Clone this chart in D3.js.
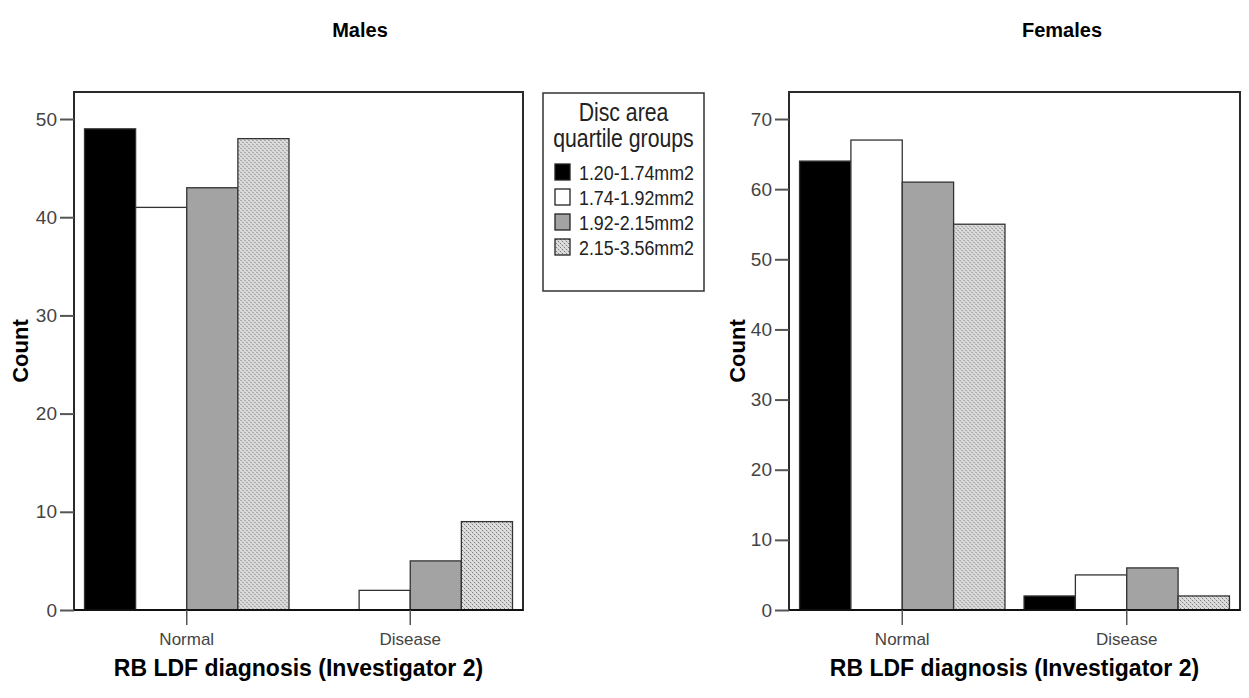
<!DOCTYPE html>
<html>
<head>
<meta charset="utf-8">
<script src="https://cdn.jsdelivr.net/npm/d3@7"></script>
<style>
  html, body { margin: 0; padding: 0; background: #fff; }
  svg { display: block; }
  .reg { font-family: "Liberation Sans", Arial, sans-serif; }
  .bold { font-family: "Liberation Sans", Arial, sans-serif; font-weight: bold; }
</style>
</head>
<body>
<svg id="chart" width="1249" height="698"></svg>
<script>
// Counts by diagnosis (rows) and disc-area quartile group (columns)
const categories = ["Normal", "Disease"];
const groups = ["1.20-1.74mm2", "1.74-1.92mm2", "1.92-2.15mm2", "2.15-3.56mm2"];
const malesNormal = [49, 41, 43, 48];
const malesDisease = [0, 2, 5, 9];
const femalesNormal = [64, 67, 61, 55];
const femalesDisease = [2, 5, 6, 2];
const malesTicks = [0, 10, 20, 30, 40, 50];
const femalesTicks = [0, 10, 20, 30, 40, 50, 60, 70];
const legendTitle = ["Disc area", "quartile groups"];
const xTitle = "RB LDF diagnosis (Investigator 2)";
const yTitle = "Count";

const svg = d3.select("#chart");
const CONDENSE = 0.85; // horizontal squeeze for the narrow-looking labels

// Fill patterns: solid black, white, mid grey, light stipple
const defs = svg.append("defs");
const stip = defs.append("pattern")
  .attr("id", "stipple").attr("patternUnits", "userSpaceOnUse")
  .attr("width", 4).attr("height", 4);
stip.append("rect").attr("width", 4).attr("height", 4).attr("fill", "#dedede");
stip.append("rect").attr("x", 0).attr("y", 0).attr("width", 1).attr("height", 1).attr("fill", "#7a7a7a");
stip.append("rect").attr("x", 2).attr("y", 2).attr("width", 1).attr("height", 1).attr("fill", "#7a7a7a");
stip.append("rect").attr("x", 1).attr("y", 1).attr("width", 1).attr("height", 1).attr("fill", "#bdbdbd");
stip.append("rect").attr("x", 3).attr("y", 3).attr("width", 1).attr("height", 1).attr("fill", "#bdbdbd");

const fills = d3.scaleOrdinal().domain(groups)
  .range(["#000000", "#ffffff", "#a3a3a3", "url(#stipple)"]);

function drawPanel(opt) {
  const g = svg.append("g");
  const { x0, x1, y0, y1 } = opt;

  const x = d3.scaleBand().domain(categories).range([x0, x1])
    .paddingInner(0.085).paddingOuter(0.047);
  const xi = d3.scaleBand().domain(groups).range([0, x.bandwidth()]);
  const y = d3.scaleLinear().domain([0, opt.yMax]).range([y1, y0]);

  // plot frame
  g.append("rect")
    .attr("x", x0).attr("y", y0).attr("width", x1 - x0).attr("height", y1 - y0)
    .attr("fill", "#fff").attr("stroke", "#2a2a2a").attr("stroke-width", 2);

  // bars
  const rows = categories.map((c, i) => ({ cat: c, vals: opt.values[i] }));
  const grp = g.selectAll("g.cat").data(rows).join("g")
    .attr("class", "cat")
    .attr("transform", d => `translate(${x(d.cat)},0)`);
  grp.selectAll("rect").data(d => d.vals.map((v, j) => ({ v, grp: groups[j] })))
    .join("rect")
    .attr("x", d => xi(d.grp))
    .attr("y", d => y(d.v))
    .attr("width", xi.bandwidth())
    .attr("height", d => y(0) - y(d.v))
    .attr("fill", d => fills(d.grp))
    .attr("stroke", "#333")
    .attr("stroke-width", 1.3);

  // baseline
  g.append("line").attr("x1", x0).attr("x2", x1).attr("y1", y1).attr("y2", y1)
    .attr("stroke", "#111").attr("stroke-width", 2);

  // y axis
  const ya = g.append("g").attr("transform", `translate(${x0},0)`)
    .call(d3.axisLeft(y).tickValues(opt.ticks).tickSize(14).tickPadding(3));
  ya.select(".domain").remove();
  ya.selectAll(".tick line").attr("stroke", "#555").attr("stroke-width", 2);
  ya.selectAll(".tick text").attr("class", "reg").attr("font-size", 19)
    .attr("fill", "#444").attr("font-family", null);

  // x axis
  const xa = g.append("g").attr("transform", `translate(0,${y1})`)
    .call(d3.axisBottom(x).tickSize(15).tickPadding(8));
  xa.select(".domain").remove();
  xa.selectAll(".tick line").attr("stroke", "#555").attr("stroke-width", 1.5);
  xa.selectAll(".tick text").attr("class", "reg").attr("font-size", 17)
    .attr("fill", "#444").attr("font-family", null);

  // titles
  g.append("text").attr("class", "bold").attr("x", opt.titleX).attr("y", 37)
    .attr("text-anchor", "middle").attr("font-size", 20).text(opt.title);
  g.append("text").attr("class", "bold").attr("x", (x0 + x1) / 2).attr("y", 676)
    .attr("text-anchor", "middle").attr("font-size", 23).text(xTitle);
  g.append("text").attr("class", "bold")
    .attr("transform", `translate(${opt.yLabelX},${(y0 + y1) / 2}) rotate(-90)`)
    .attr("text-anchor", "middle").attr("dy", "0.35em").attr("font-size", 22).text(yTitle);
}

drawPanel({
  x0: 74, x1: 523, y0: 92, y1: 610, yMax: 52.75,
  ticks: malesTicks, values: [malesNormal, malesDisease],
  title: "Males", titleX: 360, yLabelX: 20
});
drawPanel({
  x0: 789, x1: 1240, y0: 92, y1: 610, yMax: 73.85,
  ticks: femalesTicks, values: [femalesNormal, femalesDisease],
  title: "Females", titleX: 1062, yLabelX: 737
});

// legend
const lg = svg.append("g");
lg.append("rect").attr("x", 543).attr("y", 93).attr("width", 161).attr("height", 198)
  .attr("fill", "#fff").attr("stroke", "#333").attr("stroke-width", 1.5);
lg.selectAll("text.lt").data(legendTitle).join("text")
  .attr("class", "lt reg")
  .attr("transform", (d, i) => `translate(623.5,${121 + i * 26}) scale(${CONDENSE},1)`)
  .attr("text-anchor", "middle").attr("font-size", 25).attr("fill", "#222")
  .text(d => d);
const li = lg.selectAll("g.item").data(groups).join("g")
  .attr("class", "item")
  .attr("transform", (d, i) => `translate(0,${172 + i * 25})`);
li.append("rect").attr("x", 555).attr("y", -8).attr("width", 15).attr("height", 16)
  .attr("fill", d => fills(d)).attr("stroke", "#222").attr("stroke-width", 1.3);
li.append("text").attr("class", "reg")
  .attr("transform", `translate(579,8) scale(${CONDENSE},1)`)
  .attr("font-size", 21).attr("fill", "#222").text(d => d);
</script>
</body>
</html>
